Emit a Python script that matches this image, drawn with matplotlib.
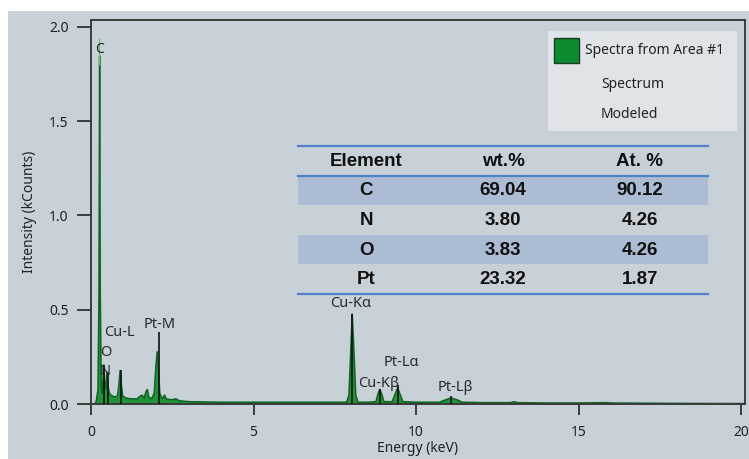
import matplotlib

matplotlib.use("Agg")

import matplotlib.pyplot as plt
from matplotlib.patches import Rectangle

plt.rcParams["font.family"] = ["Noto Sans", "DejaVu Sans"]

# spectrum samples (keV, kCounts)
energy = [
    0.00, 0.10, 0.15, 0.20, 0.23, 0.25, 0.27, 0.30, 0.33, 0.36, 0.38, 0.40,
    0.44, 0.47, 0.50, 0.55, 0.60, 0.70, 0.80, 0.84, 0.88, 0.92, 0.96, 1.05,
    1.20, 1.40, 1.50, 1.56, 1.62, 1.68, 1.72, 1.76, 1.85, 1.93, 1.98, 2.02,
    2.06, 2.10, 2.18, 2.25, 2.30, 2.45, 2.60, 2.70, 3.00, 4.00, 5.00, 6.00,
    7.00, 7.85, 7.92, 7.98, 8.02, 8.07, 8.13, 8.20, 8.50, 8.75, 8.82, 8.87,
    8.92, 9.00, 9.25, 9.35, 9.42, 9.48, 9.58, 10.0, 10.7, 10.9, 11.05, 11.25,
    11.4, 12.0, 12.9, 13.0, 13.1, 14.0, 15.0, 15.8, 16.0, 18.0, 20.0, 20.2,
]
counts = [
    0.000, 0.000, 0.020, 0.080, 0.600, 1.850, 0.600, 0.100, 0.060, 0.150, 0.210, 0.120,
    0.080, 0.170, 0.100, 0.060, 0.050, 0.040, 0.045, 0.100, 0.180, 0.100, 0.045, 0.035,
    0.030, 0.030, 0.045, 0.050, 0.035, 0.070, 0.080, 0.040, 0.030, 0.060, 0.200, 0.280,
    0.200, 0.060, 0.030, 0.050, 0.030, 0.025, 0.030, 0.020, 0.015, 0.012, 0.012, 0.012,
    0.012, 0.012, 0.050, 0.300, 0.480, 0.300, 0.050, 0.012, 0.012, 0.015, 0.060, 0.080,
    0.060, 0.015, 0.015, 0.060, 0.090, 0.060, 0.015, 0.012, 0.012, 0.025, 0.035, 0.025,
    0.012, 0.010, 0.010, 0.015, 0.010, 0.008, 0.008, 0.010, 0.008, 0.006, 0.005, 0.005,
]

# line markers: name, energy, marker top, label position
line_names = ["N", "O", "Cu-L", "Pt-M", "Cu-Kα", "Cu-Kβ", "Pt-Lα", "Pt-Lβ"]
line_energy = [0.39, 0.52, 0.93, 2.08, 8.04, 8.90, 9.44, 11.07]
line_top = [0.20, 0.17, 0.18, 0.38, 0.48, 0.08, 0.10, 0.04]
label_x = [0.42, 0.46, 0.40, 2.10, 8.00, 8.86, 9.55, 11.20]
label_y = [0.17, 0.275, 0.38, 0.42, 0.535, 0.11, 0.218, 0.09]
label_ha = ["center", "center", "left", "center", "center", "center", "center", "center"]

# quantification table
elements = ["C", "N", "O", "Pt"]
wt_pct = ["69.04", "3.80", "3.83", "23.32"]
at_pct = ["90.12", "4.26", "4.26", "1.87"]
table_header = ["Element", "wt.%", "At. %"]

legend_labels = ["Spectra from Area #1", "Spectrum", "Modeled"]

W, H = 749, 459
BG = "#c8d0d8"
FRAME = "#3c3c3c"


def px(x, y):
    """pixel position from the top-left corner -> figure fraction"""
    return x / W, 1 - y / H


fig = plt.figure(figsize=(W / 100, H / 100), dpi=100, facecolor="white")
fig.patches.append(Rectangle((8 / W, 0), 1, 1 - 11 / H, transform=fig.transFigure,
                             facecolor=BG, edgecolor="none", zorder=-10))

ax = fig.add_axes([91 / W, 1 - 404 / H, (745 - 91) / W, (404 - 20) / H])
ax.set_facecolor(BG)
ax.set_xlim(0, 20.12)
ax.set_ylim(0, 2.037)

ax.fill_between(energy, counts, 0, facecolor="#22913a", edgecolor="#0e6420",
                linewidth=1.1, zorder=2)
ax.vlines(0.25, 1.80, 1.94, color="#6cc070", linewidth=1.0, zorder=3)
ax.text(0.25, 1.88, "C", ha="center", va="center", fontsize=10, color="#222222", zorder=4)

ax.vlines(line_energy, 0, line_top, color="#111111", linewidth=1.2, zorder=3)
for name, lx, ly, ha in zip(line_names, label_x, label_y, label_ha):
    ax.text(lx, ly, name, ha=ha, va="center", fontsize=10.5, color="#2a2a2a", zorder=4)

ax.set_xticks([0, 5, 10, 15, 20])
ax.set_yticks([0.0, 0.5, 1.0, 1.5, 2.0])
ax.set_yticklabels([f"{v:.1f}" for v in ax.get_yticks()])
ax.tick_params(axis="both", direction="out", color=FRAME, labelcolor="#222222",
               labelsize=10, width=1.4)
ax.tick_params(axis="y", length=10, pad=6)
ax.tick_params(axis="x", length=8, pad=7)
for spine in ax.spines.values():
    spine.set_color(FRAME)
    spine.set_linewidth(1.4)
ax.set_xlabel("Energy (keV)", fontsize=10, color="#222222", labelpad=1)
ax.set_ylabel("Intensity (kCounts)", fontsize=10, color="#222222", labelpad=9)

# legend panel
lx0, ly0 = px(548, 131)
lx1, ly1 = px(737, 31)
fig.patches.append(Rectangle((lx0, ly0), lx1 - lx0, ly1 - ly0, transform=fig.transFigure,
                             facecolor="#e0e4e9", edgecolor="none", zorder=5))
sx0, sy0 = px(554, 63)
sx1, sy1 = px(579, 38)
fig.patches.append(Rectangle((sx0, sy0), sx1 - sx0, sy1 - sy0, transform=fig.transFigure,
                             facecolor="#0b8a2e", edgecolor="#1b3a22", linewidth=1.0, zorder=6))
for label, (tx, ty) in zip(legend_labels, [(585, 51), (601, 85), (601, 114)]):
    fx, fy = px(tx, ty)
    fig.text(fx, fy, label, ha="left", va="center", fontsize=10, color="#222222", zorder=7)

# table
tx0, ty0 = px(298, 294)
tx1, ty1 = px(708, 146)
tab = fig.add_axes([tx0, ty0, tx1 - tx0, ty1 - ty0])
tab.set_xlim(0, 1)
tab.set_ylim(5, 0)
tab.axis("off")
rows = [table_header] + [list(r) for r in zip(elements, wt_pct, at_pct)]
col_x = [0.166, 0.5, 0.834]
for i, row in enumerate(rows):
    if i in (1, 3):
        tab.add_patch(Rectangle((0, i), 1, 1, facecolor="#abbcd4", edgecolor="none"))
    for cx, cell in zip(col_x, row):
        tab.text(cx, i + 0.52, cell, ha="center", va="center", fontsize=13.5,
                 fontweight="bold", family="Liberation Sans", color="#111111")
for yline in (0, 1, 5):
    tab.axhline(yline, color="#4f82c8", linewidth=1.6, clip_on=False)

fig.savefig("out.png", dpi=100, facecolor=fig.get_facecolor())
